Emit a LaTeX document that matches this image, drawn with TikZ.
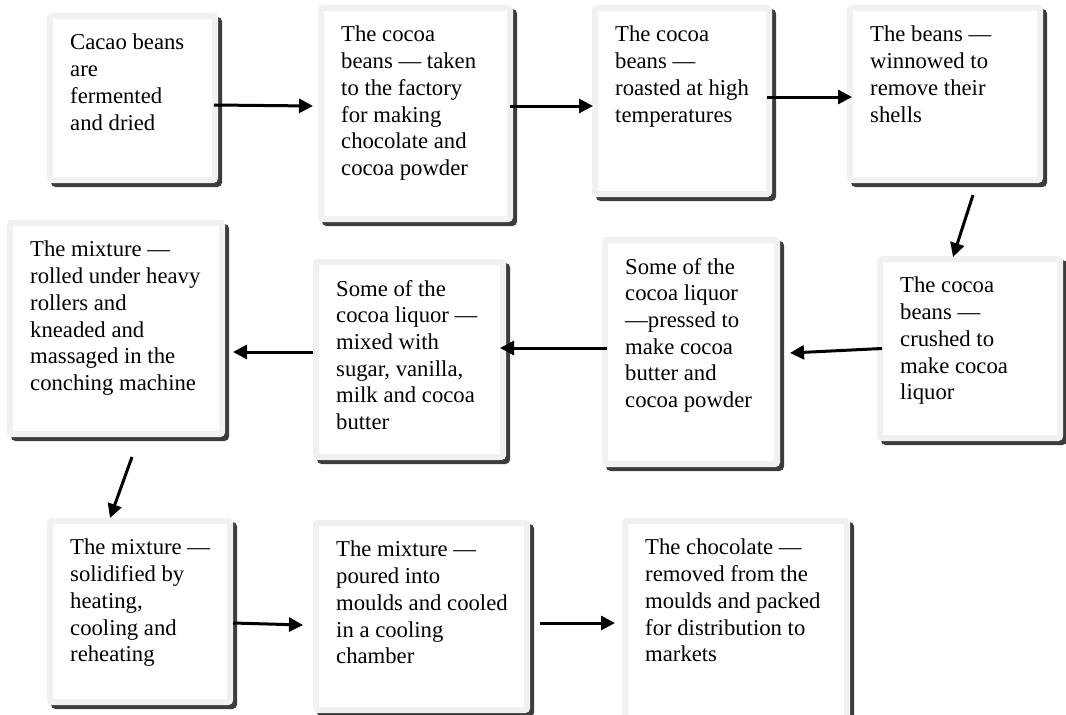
\documentclass[tikz,border=0pt]{standalone}
\usepackage{fontspec}
\setmainfont{Liberation Serif}
\usetikzlibrary{arrows.meta,positioning,shadows}
\definecolor{boxgray}{HTML}{F1F1F1}
\definecolor{shadowgray}{HTML}{3C3C3C}

\begin{document}
\begin{tikzpicture}[x=1pt,y=-1pt,->,>={Triangle[length=14pt,width=14pt]},
  stepbox/.style={rectangle,fill=white,draw=boxgray,line width=6pt,rounded corners=2pt,
    drop shadow={shadow xshift=4pt,shadow yshift=-4pt,opacity=1,fill=shadowgray,draw=shadowgray}},
  steptext/.style={inner sep=0pt,align=left,font=\fontsize{22.7}{26.7}\selectfont}]

  \useasboundingbox (0,0) rectangle (1066,715);

  % first row
  \node[stepbox,minimum width=165pt,minimum height=164pt] (ferment) at (132.5,98) {};
  \node[stepbox,minimum width=189pt,minimum height=211pt] (factory) at (415.5,113.5) {};
  \node[stepbox,minimum width=174pt,minimum height=186pt] (roast) at (682,101) {};
  \node[stepbox,minimum width=190pt,minimum height=172pt] (winnow) at (945,94) {};

  % second row, right to left
  \node[stepbox,minimum width=180pt,minimum height=179pt] (crush) at (970,348.5) {};
  \node[stepbox,minimum width=172pt,minimum height=224pt] (press) at (691,352) {};
  \node[stepbox,minimum width=187pt,minimum height=195pt] (mix) at (409.5,359.5) {};
  \node[stepbox,minimum width=212pt,minimum height=211pt] (conch) at (116,328.5) {};

  % third row
  \node[stepbox,minimum width=180pt,minimum height=181pt] (solid) at (140,611.5) {};
  \node[stepbox,minimum width=211pt,minimum height=187pt] (mould) at (421.5,616.5) {};
  \node[stepbox,minimum width=222pt,minimum height=216pt] (pack) at (736,629) {};

  % texts
  \node[steptext] (ferment-t) [below right=21pt and 23pt of ferment.north west]
    {Cacao beans\\are\\fermented\\and dried};
  \node[steptext] (factory-t) [below right=21pt and 23pt of factory.north west]
    {The cocoa\\beans — taken\\to the factory\\for making\\chocolate and\\cocoa powder};
  \node[steptext] (roast-t) [below right=21pt and 23pt of roast.north west]
    {The cocoa\\beans —\\roasted at high\\temperatures};
  \node[steptext] (winnow-t) [below right=21pt and 23pt of winnow.north west]
    {The beans —\\winnowed to\\remove their\\shells};
  \node[steptext] (crush-t) [below right=21pt and 23pt of crush.north west]
    {The cocoa\\beans —\\crushed to\\make cocoa\\liquor};
  \node[steptext] (press-t) [below right=21pt and 23pt of press.north west]
    {Some of the\\cocoa liquor\\—pressed to\\make cocoa\\butter and\\cocoa powder};
  \node[steptext] (mix-t) [below right=21pt and 23pt of mix.north west]
    {Some of the\\cocoa liquor —\\mixed with\\sugar, vanilla,\\milk and cocoa\\butter};
  \node[steptext] (conch-t) [below right=21pt and 23pt of conch.north west]
    {The mixture —\\rolled under heavy\\rollers and\\kneaded and\\massaged in the\\conching machine};
  \node[steptext] (solid-t) [below right=21pt and 23pt of solid.north west]
    {The mixture —\\solidified by\\heating,\\cooling and\\reheating};
  \node[steptext] (mould-t) [below right=21pt and 23pt of mould.north west]
    {The mixture —\\poured into\\moulds and cooled\\in a cooling\\chamber};
  \node[steptext] (pack-t) [below right=21pt and 23pt of pack.north west]
    {The chocolate —\\removed from the\\moulds and packed\\for distribution to\\markets};

  \path[line width=3pt]
  ([shift={(-4,7)}]ferment.east) edge ([shift={(-5,-7.5)}]factory.west)
  ([shift={(-3,-7.5)}]factory.east) edge ([shift={(1,5)}]roast.west)
  ([shift={(-5,-4)}]roast.east) edge ([shift={(5,3)}]winnow.west)
  ([shift={(28,12)}]winnow.south) edge ([shift={(-17,1)}]crush.north)
  ([shift={(5,0)}]crush.west) edge ([shift={(10,1)}]press.east)
  ([shift={(5,-4)}]press.west) edge ([shift={(-6,-11.5)}]mix.east)
  ([shift={(0,-7.5)}]mix.west) edge ([shift={(8,23.5)}]conch.east)
  ([shift={(16,20)}]conch.south) edge ([shift={(-30,0)}]solid.north)
  ([shift={(0,11.5)}]solid.east) edge ([shift={(-10,8.5)}]mould.west)
  ([shift={(10,6.5)}]mould.east) edge ([shift={(-7,-6)}]pack.west);
\end{tikzpicture}
\end{document}
